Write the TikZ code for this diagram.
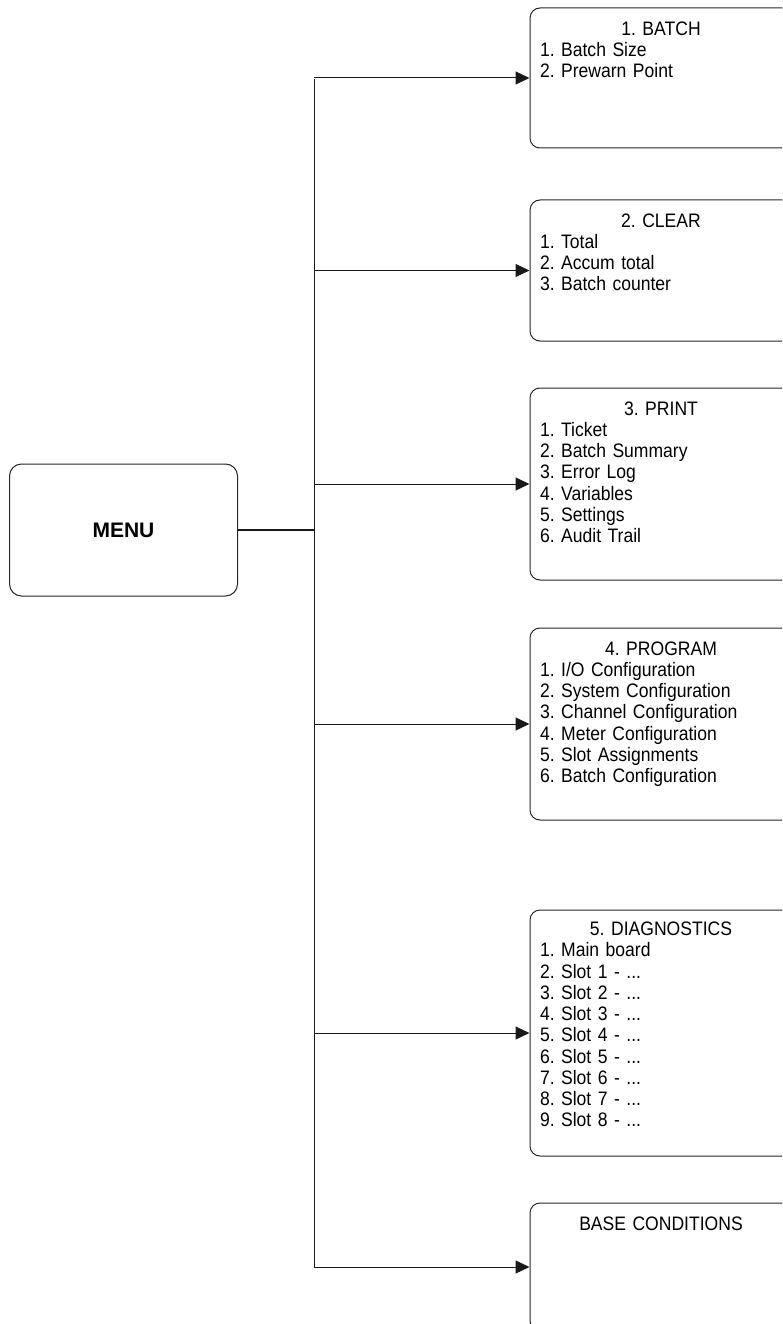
\documentclass[tikz,border=0pt]{standalone}
\usepackage{fontspec}
\setmainfont{Liberation Sans}
\newfontfamily\narrowfont[FakeStretch=0.9]{Liberation Sans}
\usetikzlibrary{arrows.meta}
\frenchspacing

\tikzset{
  menubox/.style={draw=black!85, line width=1pt, rounded corners=10pt,
    minimum width=262pt, inner sep=0pt},
  rootbox/.style={draw=black!85, line width=1pt, rounded corners=12pt,
    minimum width=228pt, minimum height=132pt, inner sep=0pt,
    font=\fontsize{21}{24}\selectfont\bfseries},
  boxtext/.style={anchor=north, inner xsep=0pt, inner ysep=0pt,
    text width=242pt, align=left,
    font=\narrowfont\fontsize{19.5}{21.25}\selectfont},
  link/.style={line width=1pt, black!90},
  feed/.style={link, -{Triangle[length=14pt, width=13pt]}},
}

\newcommand{\boxtitle}[1]{\makebox[\linewidth][c]{#1}}

\begin{document}
\begin{tikzpicture}[x=1pt, y=-1pt]
  \useasboundingbox (0,0) rectangle (782,1324);
  \clip (0,0) rectangle (782,1324);

  % root of the menu tree
  \node[rootbox] (menu) at (123.5,530) {MENU};

  % sub-menu boxes (right edges run off the page)
  \node[menubox, minimum height=140pt] (batch) at (661,78) {};
  \node[menubox, minimum height=141pt] (clear) at (661,270.5) {};
  \node[menubox, minimum height=192pt] (print) at (661,484) {};
  \node[menubox, minimum height=192pt] (program) at (661,724) {};
  \node[menubox, minimum height=246pt] (diag) at (661,1033) {};
  \node[menubox, minimum height=128pt] (base) at (661,1267) {};

  % box contents
  \node[boxtext] (batchtxt) at ([yshift=-13.8pt]batch.north)
    {\boxtitle{1. BATCH}\\1. Batch Size\\2. Prewarn Point};
  \node[boxtext] (cleartxt) at ([yshift=-13.8pt]clear.north)
    {\boxtitle{2. CLEAR}\\1. Total\\2. Accum total\\3. Batch counter};
  \node[boxtext] (printtxt) at ([yshift=-13.8pt]print.north)
    {\boxtitle{3. PRINT}\\1. Ticket\\2. Batch Summary\\3. Error Log\\4. Variables\\5. Settings\\6. Audit Trail};
  \node[boxtext] (programtxt) at ([yshift=-13.8pt]program.north)
    {\boxtitle{4. PROGRAM}\\1. I/O Configuration\\2. System Configuration\\3. Channel Configuration\\4. Meter Configuration\\5. Slot Assignments\\6. Batch Configuration};
  \node[boxtext] (diagtxt) at ([yshift=-12.3pt]diag.north)
    {\boxtitle{5. DIAGNOSTICS}\\1. Main board\\2. Slot 1 - ...\\3. Slot 2 - ...\\4. Slot 3 - ...\\5. Slot 4 - ...\\6. Slot 5 - ...\\7. Slot 6 - ...\\8. Slot 7 - ...\\9. Slot 8 - ...};
  \node[boxtext] (basetxt) at ([yshift=-13.8pt]base.north)
    {\boxtitle{BASE CONDITIONS}};

  % trunk
  \coordinate (trunktop) at (314,79);
  \coordinate (trunkbot) at (314,1267);
  \coordinate (junction) at (314,530);
  \draw[link] (trunktop) -- (trunkbot);
  \draw[line width=2pt, black!90] (menu.east) -- (junction);

  % branches
  \foreach \b in {batch,clear,print,program,diag,base}
    \draw[feed] (trunktop |- \b.west) -- (\b.west);
\end{tikzpicture}
\end{document}
